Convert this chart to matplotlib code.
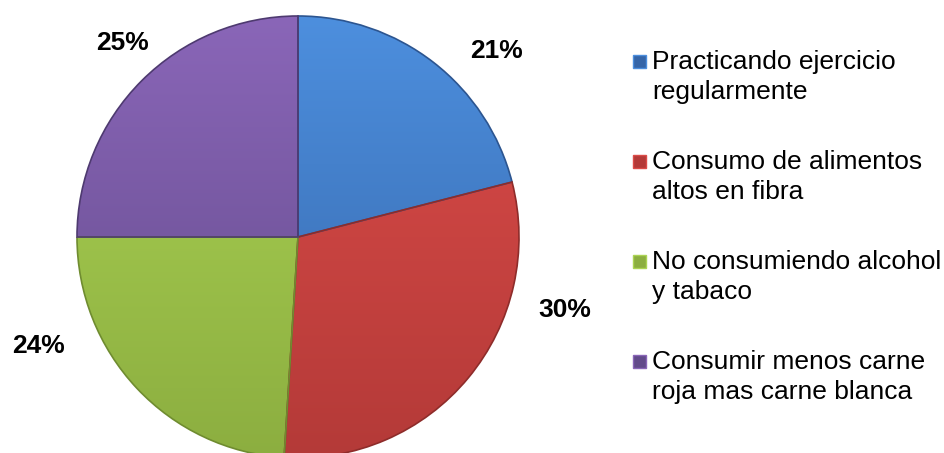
import matplotlib.pyplot as plt
import numpy as np
from matplotlib.colors import LinearSegmentedColormap
from matplotlib.patches import Rectangle

plt.rcParams["font.family"] = ["Liberation Sans", "DejaVu Sans"]

labels = [
    "Practicando ejercicio\nregularmente",
    "Consumo de alimentos\naltos en fibra",
    "No consumiendo alcohol\ny tabaco",
    "Consumir menos carne\nroja mas carne blanca",
]
values = [21, 30, 24, 25]

# light (top) / dark (bottom) shade of each slice
light = ["#4d8fde", "#dc4c49", "#acd454", "#8a66b8"]
dark = ["#3565a8", "#b43a38", "#8cae40", "#624a8a"]
edges = ["#2c5590", "#8e2c2a", "#6f8c30", "#4e3a70"]

# percent label positions, in pie radius units (x, baseline y)
label_pos = [(0.896, 0.81), (1.208, -0.362), (-1.176, -0.525), (-0.792, 0.846)]

W, H = 945, 453
cx, cy, r = 298, 237, 221

fig = plt.figure(figsize=(W / 100, H / 100), dpi=100)
ax = fig.add_axes([(cx - r) / W, (H - cy - r) / H, 2 * r / W, 2 * r / H])

wedges, _ = ax.pie(values, startangle=90, counterclock=False, radius=1,
                   colors=light,
                   wedgeprops=dict(linewidth=1.2))

# vertical shading inside each slice
grad = np.linspace(0, 1, 256).reshape(-1, 1)
for w, c_lo, c_hi, ec in zip(wedges, dark, light, edges):
    cmap = LinearSegmentedColormap.from_list("shade", [c_lo, c_hi])
    im = ax.imshow(grad, extent=[-1, 1, -1, 1], origin="lower", cmap=cmap,
                   aspect="auto", zorder=0.5, interpolation="bilinear")
    im.set_clip_path(w)
    w.set_facecolor("none")
    w.set_edgecolor(ec)
    w.set_zorder(1)

for v, (x, y) in zip(values, label_pos):
    ax.text(x, y, f"{v}%", ha="center", va="baseline", fontsize=19,
            fontweight="bold", color="black", clip_on=False)

ax.set_xlim(-1, 1)
ax.set_ylim(-1, 1)
ax.set_aspect("equal")
ax.axis("off")

# legend: square swatch + two-line label per entry
for i, (lab, c_hi, c_lo) in enumerate(zip(labels, light, dark)):
    base = 69 + 100 * i
    sq = 13
    fig.patches.append(Rectangle(((633) / W, (H - base + 1) / H), sq / W, sq / H,
                                 transform=fig.transFigure, facecolor=c_lo,
                                 edgecolor=c_hi, linewidth=1.0))
    for j, line in enumerate(lab.split("\n")):
        fig.text(652 / W, (H - base - 30 * j) / H, line, fontsize=19,
                 va="baseline", ha="left", color="black")

fig.savefig("out.png", dpi=100)
